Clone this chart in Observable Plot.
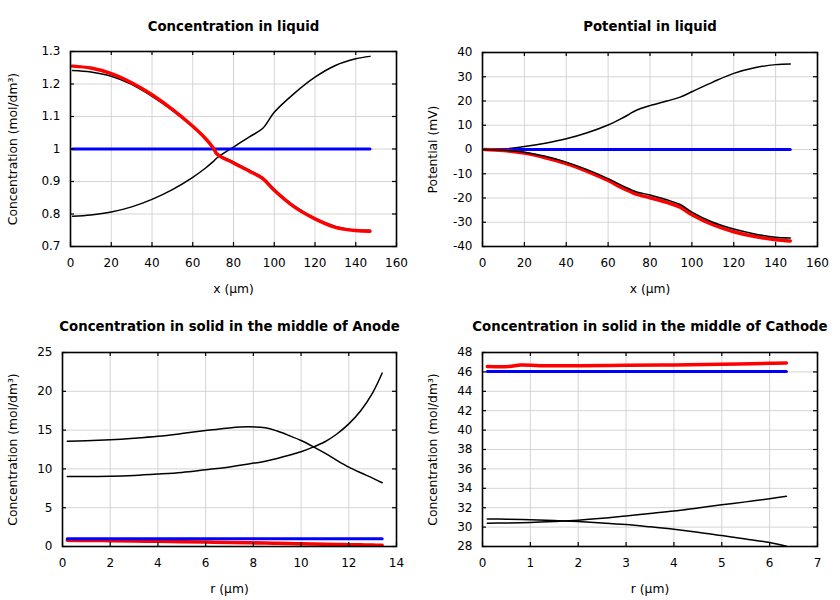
<!DOCTYPE html>
<html>
<head>
<meta charset="utf-8">
<script src="https://cdn.jsdelivr.net/npm/d3@7"></script>
<script src="https://cdn.jsdelivr.net/npm/@observablehq/plot@0.6"></script>
<style>
  body { margin: 0; background: #fff; }
  #wrap { position: relative; width: 840px; height: 600px; background: #fff; }
  .cell { position: absolute; width: 420px; height: 300px; }
</style>
</head>
<body>
<div id="wrap"></div>
<script>
// ---------- Panel 1: Concentration in liquid ----------
const liqX      = [1, 10, 20, 30, 40, 50, 60, 66, 70, 72, 80, 88, 94.4, 100, 110, 120, 130, 140, 147];
const liqUp     = [0.793, 0.797, 0.806, 0.822, 0.845, 0.875, 0.913, 0.940, 0.961, 0.973, 1.006, 1.038, 1.064, 1.113, 1.172, 1.221, 1.257, 1.2775, 1.285];
const liqDown   = [1.2415, 1.237, 1.224, 1.199, 1.162, 1.119, 1.069, 1.034, 1.005, 0.986, 0.960, 0.934, 0.912, 0.876, 0.824, 0.787, 0.762, 0.751, 0.750];
const liqRed    = [1.255, 1.249, 1.232, 1.204, 1.167, 1.122, 1.070, 1.034, 1.004, 0.984, 0.957, 0.931, 0.909, 0.873, 0.821, 0.785, 0.759, 0.749, 0.747];
const liqBlue   = [1, 1, 1, 1, 1, 1, 1, 1, 1, 1, 1, 1, 1, 1, 1, 1, 1, 1, 1];
const liqXTicks = [0, 20, 40, 60, 80, 100, 120, 140, 160];
const liqYTicks = [0.7, 0.8, 0.9, 1, 1.1, 1.2, 1.3];

// ---------- Panel 2: Potential in liquid ----------
const potX      = [1, 10, 20, 30, 40, 50, 60, 66, 70, 73, 80, 88, 94.4, 100, 110, 120, 130, 140, 147];
const potUp     = [0, 0.2, 1.2, 2.6, 4.4, 6.9, 10.1, 12.6, 14.5, 16.0, 18.1, 20.0, 21.6, 23.8, 27.8, 31.4, 33.7, 35.0, 35.3];
const potDown   = [0, -0.3, -1.1, -2.8, -5.2, -8.3, -12.0, -14.6, -16.2, -17.3, -18.8, -20.7, -22.7, -25.8, -30.0, -32.8, -34.8, -36.2, -36.5];
const potRed    = [0, -0.4, -1.5, -3.4, -5.8, -9.0, -12.8, -15.5, -17.1, -18.3, -19.9, -21.8, -23.8, -26.9, -31.0, -33.9, -35.9, -37.2, -37.7];
const potBlue   = [0, 0, 0, 0, 0, 0, 0, 0, 0, 0, 0, 0, 0, 0, 0, 0, 0, 0, 0];
const potXTicks = [0, 20, 40, 60, 80, 100, 120, 140, 160];
const potYTicks = [-40, -30, -20, -10, 0, 10, 20, 30, 40];

// ---------- Panel 3: Concentration in solid, middle of Anode ----------
const anR       = [0.2, 1, 2, 3, 4, 5, 6, 7, 7.8, 8.5, 9, 9.5, 10, 10.5, 11, 11.5, 12, 12.5, 13, 13.4];
const anBump    = [13.57, 13.62, 13.75, 13.95, 14.2, 14.55, 14.94, 15.28, 15.42, 15.3, 14.88, 14.3, 13.66, 12.88, 12.03, 11.1, 10.23, 9.5, 8.82, 8.22];
const anRise    = [9.03, 9.03, 9.05, 9.15, 9.33, 9.55, 9.89, 10.25, 10.62, 11.0, 11.35, 11.75, 12.2, 12.8, 13.5, 14.5, 15.8, 17.5, 19.8, 22.35];
const anRed     = [0.8, 0.78, 0.75, 0.71, 0.67, 0.62, 0.57, 0.52, 0.48, 0.44, 0.42, 0.39, 0.36, 0.33, 0.30, 0.27, 0.24, 0.21, 0.18, 0.16];
const anBlue    = [1, 1, 1, 1, 1, 1, 1, 1, 1, 1, 1, 1, 1, 1, 1, 1, 1, 1, 1, 1];
const anXTicks  = [0, 2, 4, 6, 8, 10, 12, 14];
const anYTicks  = [0, 5, 10, 15, 20, 25];

// ---------- Panel 4: Concentration in solid, middle of Cathode ----------
const caR       = [0.1, 0.5, 1, 1.5, 2, 2.5, 3, 3.5, 4, 4.5, 5, 5.5, 6, 6.35];
const caRise    = [30.4, 30.42, 30.47, 30.57, 30.7, 30.9, 31.15, 31.4, 31.66, 31.98, 32.3, 32.6, 32.93, 33.17];
const caFall    = [30.84, 30.82, 30.77, 30.68, 30.57, 30.43, 30.26, 30.03, 29.78, 29.48, 29.13, 28.78, 28.41, 28.03];
const caRedR    = [0.1, 0.55, 0.8, 1.2, 2, 3, 4, 5, 6, 6.35];
const caRed     = [46.55, 46.55, 46.72, 46.64, 46.64, 46.68, 46.72, 46.8, 46.88, 46.92];
const caBlue    = [46.05, 46.05, 46.05, 46.05, 46.05, 46.05, 46.05, 46.05, 46.05, 46.05, 46.05, 46.05, 46.05, 46.05];
const caXTicks  = [0, 1, 2, 3, 4, 5, 6, 7];
const caYTicks  = [28, 30, 32, 34, 36, 38, 40, 42, 44, 46, 48];

const BLACK = "#000000", RED = "#ff0000", BLUE = "#0000ff";
const rows = (xs, ys) => xs.map((x, i) => ({x, y: ys[i]}));

const panels = [
  {left: 0, top: 0, ml: 70, mr: 24, mt: 51, mb: 54,
   title: "Concentration in liquid", xlabel: "x (µm)", ylabel: "Concentration (mol/dm³)",
   xd: [0, 160], yd: [0.7, 1.3], xt: liqXTicks, yt: liqYTicks,
   series: [
     {x: liqX, y: liqUp, c: BLACK, w: 1.5},
     {x: liqX, y: liqDown, c: BLACK, w: 1.5},
     {x: liqX, y: liqBlue, c: BLUE, w: 3},
     {x: liqX, y: liqRed, c: RED, w: 3.5}
   ]},
  {left: 420, top: 0, ml: 62, mr: 23, mt: 52, mb: 54,
   title: "Potential in liquid", xlabel: "x (µm)", ylabel: "Potential (mV)",
   xd: [0, 160], yd: [-40, 40], xt: potXTicks, yt: potYTicks,
   series: [
     {x: potX, y: potUp, c: BLACK, w: 1.5},
     {x: potX, y: potBlue, c: BLUE, w: 3},
     {x: potX, y: potRed, c: RED, w: 3.5},
     {x: potX, y: potDown, c: BLACK, w: 1.5}
   ]},
  {left: 0, top: 300, ml: 62, mr: 24, mt: 52, mb: 54,
   title: "Concentration in solid in the middle of Anode", xlabel: "r (µm)", ylabel: "Concentration (mol/dm³)",
   xd: [0, 14], yd: [0, 25], xt: anXTicks, yt: anYTicks,
   series: [
     {x: anR, y: anBump, c: BLACK, w: 1.5},
     {x: anR, y: anRise, c: BLACK, w: 1.5},
     {x: anR, y: anRed, c: RED, w: 3.5},
     {x: anR, y: anBlue, c: BLUE, w: 3}
   ]},
  {left: 420, top: 300, ml: 62, mr: 23, mt: 52, mb: 54,
   title: "Concentration in solid in the middle of Cathode", xlabel: "r (µm)", ylabel: "Concentration (mol/dm³)",
   xd: [0, 7], yd: [28, 48], xt: caXTicks, yt: caYTicks,
   series: [
     {x: caR, y: caRise, c: BLACK, w: 1.5},
     {x: caR, y: caFall, c: BLACK, w: 1.5},
     {x: caR, y: caBlue, c: BLUE, w: 3},
     {x: caRedR, y: caRed, c: RED, w: 3.5}
   ]}
];

const wrap = document.getElementById("wrap");
for (const p of panels) {
  const fw = 420 - p.ml - p.mr, fh = 300 - p.mt - p.mb;
  const tick = {stroke: "black", strokeWidth: 1.2};
  const chart = Plot.plot({
    width: 420, height: 300,
    marginLeft: p.ml, marginRight: p.mr, marginTop: p.mt, marginBottom: p.mb,
    style: {fontFamily: "'DejaVu Sans', sans-serif", fontSize: "12px", background: "#fff", overflow: "visible", color: "#000"},
    x: {domain: p.xd},
    y: {domain: p.yd},
    marks: [
      Plot.gridX({ticks: p.xt, stroke: "#d4d4d4", strokeOpacity: 1, strokeWidth: 1}),
      Plot.gridY({ticks: p.yt, stroke: "#d4d4d4", strokeOpacity: 1, strokeWidth: 1}),
      ...p.series.map(s => Plot.line(rows(s.x, s.y), {x: "x", y: "y", stroke: s.c, strokeWidth: s.w, curve: "catmull-rom"})),
      Plot.tickX(p.xt, {x: d => d, insetTop: fh - 4, ...tick}),
      Plot.tickX(p.xt, {x: d => d, insetBottom: fh - 4, ...tick}),
      Plot.tickY(p.yt, {y: d => d, insetRight: fw - 4, ...tick}),
      Plot.tickY(p.yt, {y: d => d, insetLeft: fw - 4, ...tick}),
      Plot.frame({stroke: "black", strokeWidth: 1.6}),
      Plot.axisX({ticks: p.xt, tickSize: 0, tickPadding: 12, tickFormat: d => String(d), label: null, fontSize: 12}),
      Plot.axisY({ticks: p.yt, tickSize: 0, tickPadding: 10, tickFormat: d => String(d), label: null, fontSize: 12}),
      Plot.text([p.title], {text: d => d, frameAnchor: "top", lineAnchor: "middle", textAnchor: "middle", dy: 26.5 - p.mt, fontWeight: "bold", fontSize: 13.3}),
      Plot.text([p.xlabel], {text: d => d, frameAnchor: "bottom", lineAnchor: "middle", textAnchor: "middle", dy: 43, fontSize: 12.3}),
      Plot.text([p.ylabel], {text: d => d, frameAnchor: "left", lineAnchor: "middle", textAnchor: "middle", dx: 13 - p.ml, rotate: -90, fontSize: 12.3})
    ]
  });
  const cell = document.createElement("div");
  cell.className = "cell";
  cell.style.left = p.left + "px";
  cell.style.top = p.top + "px";
  cell.appendChild(chart);
  wrap.appendChild(cell);
}
</script>
</body>
</html>
